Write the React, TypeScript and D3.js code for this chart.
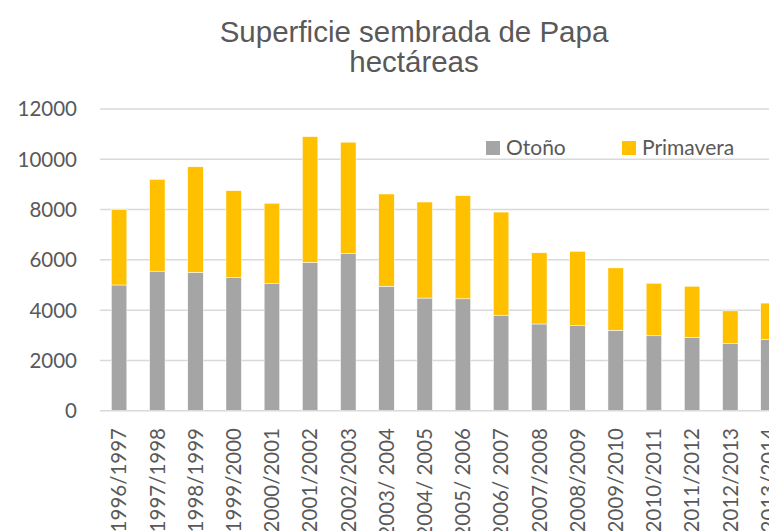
import React from 'react';
import * as d3 from 'd3';

const categories = [
  '1996/1997', '1997/1998', '1998/1999', '1999/2000', '2000/2001', '2001/2002',
  '2002/2003', '2003/ 2004', '2004/ 2005', '2005/ 2006', '2006/ 2007', '2007/2008',
  '2008/2009', '2009/2010', '2010/2011', '2011/2012', '2012/2013', '2013/2014',
];
const otono = [5000, 5550, 5500, 5300, 5050, 5900, 6250, 4950, 4480, 4450, 3800, 3450, 3380, 3200, 2980, 2920, 2670, 2840];
const primavera = [3000, 3650, 4200, 3450, 3200, 5000, 4430, 3670, 3820, 4100, 4100, 2830, 2960, 2480, 2090, 2030, 1300, 1440];
const yTicks = [0, 2000, 4000, 6000, 8000, 10000, 12000];
const seriesNames = ['Otoño', 'Primavera'];
const colors = ['#A5A5A5', '#FFC000'];

const W = 769;
const H = 531;

export default function App() {
  const rows = categories.map((c, i) => ({ cat: c, Otoño: otono[i], Primavera: primavera[i] }));
  const stacked = d3.stack<any>().keys(seriesNames)(rows);

  const x = d3.scaleBand().domain(categories).range([100, 787.6]).paddingInner(0.595).paddingOuter(0.2975);
  const y = d3.scaleLinear().domain([0, 12000]).range([410.7, 109]);

  const labelFont = 'Lato, "Open Sans", sans-serif';

  return (
    <svg width={W} height={H} style={{ position: 'absolute', left: 0, top: 0, background: '#fff' }}>
      <g fill="#595959" fontFamily='"Liberation Sans", Arial, sans-serif' fontSize={29.5} textAnchor="middle">
        <text x={414} y={41.5}>Superficie sembrada de Papa</text>
        <text x={414} y={71.5}>hectáreas</text>
      </g>

      {/* gridlines + y labels */}
      {yTicks.map(t => (
        <g key={t}>
          <line x1={100} x2={W} y1={y(t)} y2={y(t)} stroke="#d9d9d9" strokeWidth={1.5} />
          <text x={77} y={y(t)} dy="0.36em" textAnchor="end" fill="#595959" fontFamily={labelFont} fontSize={20.5}>{t}</text>
        </g>
      ))}

      {/* stacked bars */}
      {stacked.map((s, si) => (
        <g key={s.key} fill={colors[si]}>
          {s.map((d, i) => (
            <rect key={i} x={x(categories[i])} y={y(d[1])} width={x.bandwidth()} height={y(d[0]) - y(d[1])}
              stroke="#fff" strokeWidth={0.5} />
          ))}
        </g>
      ))}

      {/* x labels */}
      {categories.map(c => (
        <text key={c} transform={`translate(${(x(c) as number) + x.bandwidth() / 2},428) rotate(-90)`}
          dy="0.36em" textAnchor="end" fill="#595959" fontFamily={labelFont} fontSize={20.5}>{c}</text>
      ))}

      {/* legend */}
      <g fontFamily={labelFont} fontSize={21} fill="#595959">
        <rect x={486} y={141} width={14} height={14} fill={colors[0]} />
        <text x={506} y={155}>{seriesNames[0]}</text>
        <rect x={622} y={141} width={14} height={14} fill={colors[1]} />
        <text x={642} y={155}>{seriesNames[1]}</text>
      </g>
    </svg>
  );
}
